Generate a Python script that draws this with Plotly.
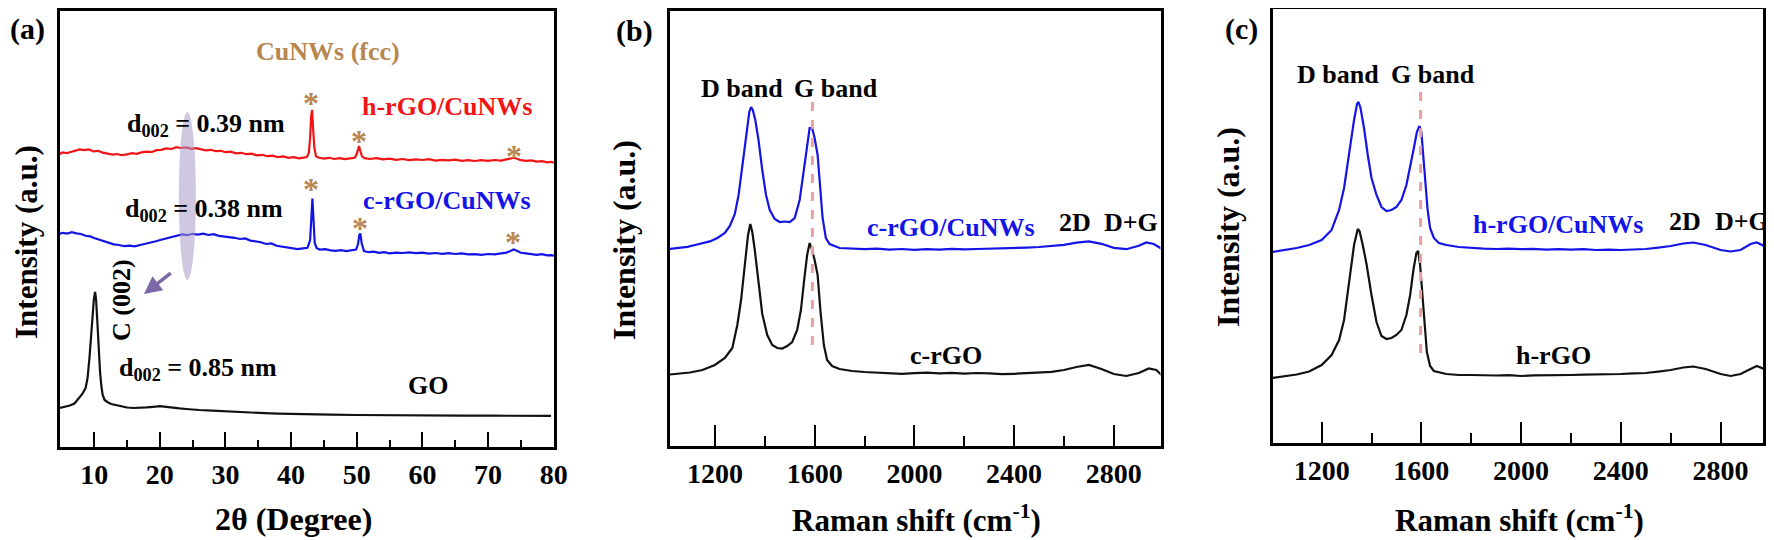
import plotly.graph_objects as go

# The page body adds an 8 px margin, so the figure is 8 px smaller on each axis
W, H = 1766, 532
OFF = 8
FONT = "Liberation Serif"

# ---------------- (a) XRD data (2theta in degree, intensity a.u.) ----------------
xrd_h_x = [4.7, 5.2, 5.8, 6.5, 7.2, 7.8, 8.5, 9.2, 9.9, 10.6, 11.3, 12.0, 12.8, 13.5, 14.2, 15.0,
           15.8, 16.5, 17.2, 18.0, 18.8, 19.5, 20.2, 21.0, 21.8, 22.5, 23.2, 24.0, 24.8, 25.5,
           26.3, 27.0, 27.8, 28.5, 29.3, 30.0, 30.8, 31.6, 32.4, 33.2, 34.0, 34.8, 35.6, 36.4,
           37.2, 38.0, 38.8, 39.6, 40.4, 41.2, 41.9, 42.4, 42.7, 42.9, 43.05, 43.2, 43.35, 43.55,
           43.8, 44.3, 45.0, 45.8, 46.6, 47.4, 48.2, 49.0, 49.7, 50.0, 50.2, 50.35, 50.55, 50.8,
           51.2, 52.0, 53.0, 54.0, 55.0, 56.0, 57.0, 58.0, 59.0, 60.0, 61.0, 62.0, 63.0, 64.0,
           65.0, 66.0, 67.0, 68.0, 69.0, 70.0, 71.0, 72.0, 72.8, 73.4, 73.9, 74.4, 75.0, 75.8,
           76.6, 77.4, 78.2, 79.0, 79.6, 80.2]
xrd_h_y = [296.0, 297.5, 296.8, 298.2, 299.0, 300.6, 299.8, 300.5, 298.6, 299.2, 297.4, 296.8, 295.4, 296.0, 294.8, 295.6,
           296.8, 296.2, 297.6, 298.4, 298.0, 299.8, 300.2, 301.6, 301.0, 302.8, 302.0, 302.6, 301.2, 301.8,
           300.4, 299.6, 300.2, 298.8, 299.2, 297.8, 298.4, 296.6, 297.2, 295.8, 296.4, 294.6, 295.2, 293.8,
           294.4, 292.8, 293.6, 292.2, 292.8, 291.6, 292.4, 293.0, 297.0, 312.0, 333.0, 340.0, 322.0, 302.0,
           293.5, 292.2, 291.4, 292.2, 291.0, 291.8, 290.8, 291.6, 292.2, 296.0, 301.5, 304.0, 299.0, 293.6,
           291.8, 291.0, 291.8, 290.6, 291.4, 290.2, 291.0, 289.8, 290.6, 290.0, 290.8, 289.4, 290.2, 289.6,
           290.4, 289.2, 289.8, 289.0, 289.8, 289.2, 290.0, 289.4, 290.6, 291.4, 292.2, 291.2, 289.8, 289.2,
           289.6, 288.4, 288.8, 287.6, 288.2, 287.2]

xrd_c_x = [4.7, 5.2, 5.9, 6.6, 7.3, 8.0, 8.7, 9.4, 10.1, 10.8, 11.5, 12.2, 13.0, 13.8, 14.6, 15.4,
           16.2, 17.0, 17.8, 18.6, 19.4, 20.2, 21.0, 21.8, 22.6, 23.4, 24.2, 25.0, 25.8, 26.6,
           27.4, 28.2, 29.0, 29.8, 30.6, 31.4, 32.2, 33.0, 33.8, 34.6, 35.4, 36.2, 37.0, 37.8,
           38.6, 39.4, 40.2, 41.0, 41.8, 42.5, 42.9, 43.1, 43.25, 43.4, 43.6, 43.9, 44.4, 45.2,
           46.0, 46.8, 47.6, 48.4, 49.2, 49.9, 50.2, 50.4, 50.55, 50.75, 51.1, 51.8, 52.6, 53.4,
           54.2, 55.0, 56.0, 57.0, 58.0, 59.0, 60.0, 61.0, 62.0, 63.0, 64.0, 65.0, 66.0, 67.0,
           68.0, 69.0, 70.0, 71.0, 72.0, 72.8, 73.4, 73.9, 74.4, 75.0, 75.8, 76.6, 77.4, 78.2,
           79.0, 79.6, 80.2]
xrd_c_y = [216.0, 217.2, 216.4, 217.8, 216.6, 216.0, 214.2, 213.6, 211.8, 210.4, 208.6, 207.2, 205.6, 205.0, 203.8, 204.4,
           203.6, 205.0, 206.2, 207.0, 208.8, 210.2, 211.6, 213.4, 214.2, 215.6, 214.8, 216.2, 215.4, 216.4,
           215.0, 215.8, 214.2, 213.6, 213.0, 212.2, 211.0, 211.6, 209.4, 208.6, 207.8, 206.0, 206.6, 204.2,
           203.4, 202.2, 201.4, 200.8, 201.6, 202.2, 210.0, 240.0, 251.5, 232.0, 207.0, 201.8, 200.4, 200.8,
           199.6, 199.2, 199.8, 198.8, 199.4, 200.4, 206.0, 215.0, 216.5, 207.0, 199.0, 197.8, 198.4, 197.2,
           197.8, 196.6, 197.4, 197.0, 197.6, 196.8, 197.4, 196.4, 197.0, 196.2, 196.8, 196.0, 196.6, 195.6,
           195.8, 195.2, 196.0, 195.6, 196.6, 197.4, 199.0, 200.6, 199.2, 197.2, 196.6, 196.0, 195.2, 195.8,
           194.6, 194.8, 194.2]

xrd_go_x = [4.7, 5.5, 6.3, 7.0, 7.7, 8.2, 8.7, 9.0, 9.3, 9.55, 9.75, 9.95, 10.15, 10.3, 10.5, 10.7,
            10.9, 11.1, 11.3, 11.6, 12.0, 12.6, 13.3, 14.0, 15.0, 16.0, 17.0, 18.0, 19.0, 20.0,
            21.0, 22.0, 23.0, 24.0, 25.0, 26.0, 28.0, 30.0, 32.0, 34.0, 36.0, 38.0, 40.0, 43.0,
            46.0, 50.0, 54.0, 58.0, 62.0, 66.0, 70.0, 74.0, 77.0, 79.6]
xrd_go_y = [42.0, 43.0, 44.5, 46.5, 51.5, 56.0, 62.0, 72.0, 93.0, 115.0, 133.0, 150.0, 158.0, 150.0, 127.0, 100.0,
            78.0, 64.0, 55.0, 50.0, 48.0, 46.0, 45.0, 43.5, 42.5, 42.0, 42.0, 42.6, 43.2, 43.8,
            43.2, 42.2, 41.6, 41.0, 40.4, 40.0, 39.4, 38.6, 37.8, 37.2, 36.8, 36.4, 36.0, 35.6,
            35.4, 35.0, 34.7, 34.6, 34.5, 34.4, 34.3, 34.3, 34.2, 34.2]

# ---------------- (b) Raman: c-rGO/CuNWs and c-rGO ----------------
ram_b_top_x = [1000, 1030, 1060, 1090, 1120, 1150, 1180, 1210, 1240, 1260, 1280, 1295, 1310, 1325, 1338, 1345,
               1352, 1362, 1375, 1390, 1405, 1420, 1440, 1460, 1480, 1500, 1520, 1540, 1555, 1568, 1580, 1590,
               1600, 1612, 1622, 1632, 1645, 1660, 1700, 1750, 1800, 1850, 1900, 1950, 2000, 2050, 2100, 2150,
               2200, 2250, 2300, 2350, 2400, 2450, 2500, 2550, 2600, 2650, 2700, 2750, 2800, 2850, 2900, 2930,
               2960, 3000]
ram_b_top_y = [200.5, 201.5, 201.8, 203.2, 205.0, 206.8, 208.6, 212.0, 217.0, 224.0, 236.0, 255.0, 285.0, 318.0, 338.0, 343.0,
               340.0, 330.0, 310.0, 280.0, 255.0, 240.0, 231.0, 228.0, 228.5, 228.0, 232.0, 250.0, 278.0, 305.0, 322.0, 322.0,
               312.0, 295.0, 265.0, 232.0, 212.0, 206.0, 202.0, 201.2, 200.8, 201.4, 200.4, 201.0, 200.2, 200.8, 200.4, 201.2,
               200.6, 201.0, 201.2, 201.8, 201.6, 202.4, 203.0, 204.0, 205.2, 207.4, 208.6, 206.2, 202.2, 200.8, 204.2, 207.6,
               206.0, 200.0]
ram_b_bot_x = [1000, 1050, 1100, 1150, 1200, 1240, 1270, 1290, 1305, 1320, 1333, 1342, 1350, 1360, 1375, 1390,
               1410, 1430, 1450, 1470, 1490, 1510, 1530, 1545, 1558, 1570, 1580, 1590, 1600, 1612, 1624, 1637,
               1650, 1670, 1700, 1750, 1800, 1850, 1900, 1950, 2000, 2050, 2100, 2150, 2200, 2250, 2300, 2350,
               2400, 2450, 2500, 2550, 2600, 2650, 2700, 2750, 2800, 2850, 2900, 2940, 2970, 3000]
ram_b_bot_y = [75.0, 76.5, 77.5, 80.0, 85.0, 92.0, 102.0, 125.0, 150.0, 185.0, 215.0, 226.0, 218.0, 200.0, 165.0, 136.0,
               115.0, 105.0, 102.0, 101.5, 104.0, 108.0, 120.0, 140.0, 170.0, 195.0, 207.0, 200.0, 190.0, 175.0, 137.0, 105.0,
               90.0, 84.0, 81.0, 79.0, 78.0, 77.2, 77.0, 76.2, 76.8, 77.4, 76.6, 77.2, 76.4, 77.0, 76.6, 75.8,
               76.2, 76.8, 77.0, 78.2, 80.0, 83.0, 85.0, 81.0, 76.0, 74.0, 77.0, 81.5, 80.0, 73.0]

# ---------------- (c) Raman: h-rGO/CuNWs and h-rGO ----------------
ram_c_top_x = [1000, 1050, 1100, 1150, 1200, 1240, 1270, 1290, 1310, 1330, 1342, 1348, 1356, 1370, 1385, 1400,
               1420, 1440, 1460, 1480, 1500, 1520, 1540, 1555, 1570, 1582, 1592, 1600, 1608, 1616, 1625, 1635,
               1650, 1670, 1700, 1750, 1800, 1850, 1900, 1950, 2000, 2050, 2100, 2150, 2200, 2250, 2300, 2350,
               2400, 2450, 2500, 2550, 2600, 2650, 2690, 2740, 2800, 2840, 2880, 2920, 2945, 2975, 3000]
ram_c_top_y = [198.0, 200.0, 202.0, 205.0, 210.0, 220.0, 240.0, 262.0, 297.0, 330.0, 346.0, 348.0, 342.0, 322.0, 295.0, 272.0,
               255.0, 243.0, 239.0, 240.0, 243.0, 250.0, 265.0, 282.0, 302.0, 318.0, 324.0, 318.0, 295.0, 265.0, 240.0, 222.0,
               212.0, 207.0, 205.0, 203.0, 202.0, 201.4, 201.0, 201.4, 200.8, 201.2, 200.4, 200.8, 200.4, 200.8, 200.0, 200.4,
               200.0, 200.6, 201.0, 202.4, 204.0, 206.5, 207.5, 205.0, 200.0, 198.5, 200.0, 206.0, 207.5, 204.0, 198.0]
ram_c_bot_x = [1000, 1050, 1100, 1150, 1200, 1240, 1270, 1290, 1310, 1330, 1345, 1352, 1365, 1380, 1400, 1420,
               1440, 1460, 1480, 1500, 1520, 1540, 1555, 1568, 1580, 1587, 1595, 1604, 1612, 1622, 1635, 1650,
               1700, 1750, 1800, 1850, 1900, 1950, 2000, 2050, 2100, 2150, 2200, 2250, 2300, 2350, 2400, 2450,
               2500, 2550, 2600, 2650, 2690, 2740, 2800, 2840, 2880, 2920, 2945, 2975, 3000]
ram_c_bot_y = [72.0, 74.0, 75.5, 78.5, 85.0, 95.0, 110.0, 130.0, 170.0, 205.0, 221.0, 219.0, 205.0, 186.0, 155.0, 128.0,
               114.0, 111.0, 112.0, 115.0, 120.0, 135.0, 155.0, 180.0, 197.0, 199.0, 185.0, 157.0, 125.0, 98.0, 84.0, 79.0,
               76.0, 75.0, 75.0, 74.6, 74.5, 74.8, 74.0, 74.6, 74.5, 75.0, 75.0, 75.4, 75.5, 76.0, 76.0, 76.6,
               77.0, 78.4, 80.0, 82.5, 83.5, 81.0, 76.0, 74.0, 76.0, 81.0, 84.0, 81.0, 75.0]

# tick labels / G-band guide positions
xrd_ticks = [10, 20, 30, 40, 50, 60, 70, 80]
xrd_minor = [15, 25, 35, 45, 55, 65, 75]
ram_ticks = [1200, 1600, 2000, 2400, 2800]
ram_minor = [1400, 1800, 2200, 2600]
g_band_b = 1591
g_band_c = 1597

RED = "#f01414"
BLUE = "#1414e6"
BLACK = "#111111"
BROWN = "#b8864f"
PINK = "#e8a0a0"

fig = go.Figure()
def line(x, y, color, xa, ya, w=2.2):
    fig.add_trace(go.Scatter(x=x, y=y, mode="lines", xaxis=xa, yaxis=ya,
                             line=dict(color=color, width=w), hoverinfo="skip", showlegend=False))

line(xrd_go_x, xrd_go_y, BLACK, "x", "y")
line(xrd_c_x, xrd_c_y, BLUE, "x", "y")
line(xrd_h_x, xrd_h_y, RED, "x", "y")
line(ram_b_bot_x, ram_b_bot_y, BLACK, "x2", "y2")
line(ram_b_top_x, ram_b_top_y, BLUE, "x2", "y2")
line(ram_c_bot_x, ram_c_bot_y, BLACK, "x3", "y3")
line(ram_c_top_x, ram_c_top_y, BLUE, "x3", "y3")

tickfont = dict(family=FONT, size=28, color="black", weight="bold")

def px_dom_x(x0, x1):          # window pixels -> figure fraction
    return [(x0 - OFF) / W, (x1 - OFF) / W]

def px_dom_y(top, bottom):
    return [1 - (bottom - OFF) / H, 1 - (top - OFF) / H]

def xax(domain, rng, ticks, minor, anchor, major_len):
    return dict(domain=domain, range=rng, anchor=anchor, tickmode="array", tickvals=ticks,
                ticktext=[str(v) for v in ticks], ticks="inside", ticklen=major_len, tickwidth=2,
                tickcolor="black", showline=True, linewidth=3, linecolor="black", mirror=True,
                showgrid=False, zeroline=False, tickfont=tickfont, automargin=False,
                minor=dict(tickvals=minor, ticks="inside", ticklen=major_len // 2, tickwidth=2,
                           tickcolor="black", showgrid=False))

def yax(anchor, domain, rng):
    return dict(domain=domain, range=rng, anchor=anchor, showticklabels=False, automargin=False,
                ticks="", showline=True, linewidth=3, linecolor="black", mirror=True,
                showgrid=False, zeroline=False)

fig.update_layout(
    template="none",
    width=W, height=H, margin=dict(l=0, r=0, t=0, b=0, pad=0),
    paper_bgcolor="white", plot_bgcolor="white",
    font=dict(family=FONT, color="black"),
    xaxis=xax(px_dom_x(60, 554), [4.8, 80.05], xrd_ticks, xrd_minor, "y", 15),
    yaxis=yax("x", px_dom_y(11, 447), [3, 439]),
    xaxis2=xax(px_dom_x(670, 1160.5), [1020, 2987], ram_ticks, ram_minor, "y2", 21),
    yaxis2=yax("x2", px_dom_y(11, 446), [4, 439]),
    xaxis3=xax(px_dom_x(1273, 1763), [1005, 2970], ram_ticks, ram_minor, "y3", 21),
    yaxis3=yax("x3", px_dom_y(9, 443), [7, 441]),
)

ann = []
def txt(text, x, y, xref, yref, size=26, color="black", angle=0):
    ann.append(dict(text=text, x=x, y=y, xref=xref, yref=yref, showarrow=False,
                    xanchor="center", yanchor="middle", textangle=angle,
                    font=dict(family=FONT, size=size, color=color, weight="bold")))

def ptxt(text, X, Y, size, angle=0):   # window-pixel placement
    txt(text, (X - OFF) / W, 1 - (Y - OFF) / H, "paper", "paper", size, angle=angle)

# panel letters and axis titles
ptxt("(a)", 27, 29, 30)
ptxt("(b)", 634, 31, 30)
ptxt("(c)", 1241, 29, 30)
ptxt("Intensity (a.u.)", 26, 242, 31, angle=-90)
ptxt("Intensity (a.u.)", 624, 240, 32, angle=-90)
ptxt("Intensity (a.u.)", 1228, 227, 32, angle=-90)
ptxt("2θ (Degree)", 293, 519, 32)
ptxt("Raman shift (cm<sup>-1</sup>)", 916, 518, 31)
ptxt("Raman shift (cm<sup>-1</sup>)", 1519, 518, 31)

# panel (a) annotations
txt("CuNWs (fcc)", 45.6, 398, "x", "y", 26, BROWN)
for (ax_, ay_) in [(43.1, 355), (50.4, 317), (74.0, 302), (43.0, 269), (50.5, 230), (73.8, 216)]:
    txt("*", ax_, ay_ - 8, "x", "y", 32, BROWN)
txt("h-rGO/CuNWs", 63.8, 343, "x", "y", 26, RED)
txt("c-rGO/CuNWs", 63.8, 250, "x", "y", 26, BLUE)
txt("d<sub>002</sub> = 0.39 nm", 27.0, 325, "x", "y", 26)
txt("d<sub>002</sub> = 0.38 nm", 26.7, 240, "x", "y", 26)
txt("d<sub>002</sub> = 0.85 nm", 25.8, 81, "x", "y", 26)
txt("GO", 60.8, 65, "x", "y", 26)
txt("C (002)", 14.1, 150, "x", "y", 26, angle=-90)
ann.append(dict(x=17.6, y=156, ax=21.9, ay=178, xref="x", yref="y", axref="x", ayref="y",
                showarrow=True, arrowhead=2, arrowsize=1, arrowwidth=3.5, arrowcolor="#7b68a6", text=""))

# panel (b)
txt("D band", 1310, 361, "x2", "y2")
txt("G band", 1687, 361, "x2", "y2")
txt("c-rGO/CuNWs", 2145, 223, "x2", "y2", 26, BLUE)
txt("2D", 2644, 228, "x2", "y2")
txt("D+G", 2870, 228, "x2", "y2")
txt("c-rGO", 2125, 95, "x2", "y2")

# panel (c)
txt("D band", 1267, 375, "x3", "y3")
txt("G band", 1645, 375, "x3", "y3")
txt("h-rGO/CuNWs", 2149, 225, "x3", "y3", 26, BLUE)
txt("2D", 2659, 228, "x3", "y3")
txt("D+G", 2884, 228, "x3", "y3")
txt("h-rGO", 2128, 95, "x3", "y3")

fig.update_layout(annotations=ann)

fig.update_layout(shapes=[
    dict(type="circle", xref="x", yref="y", x0=22.9, x1=25.5, y0=170, y1=338,
         fillcolor="rgba(170,155,200,0.55)", line=dict(width=0), layer="above"),
    dict(type="line", xref="x2", yref="y2", x0=g_band_b, x1=g_band_b, y0=105, y1=352,
         line=dict(color=PINK, width=3, dash="dash"), layer="above"),
    dict(type="line", xref="x3", yref="y3", x0=g_band_c, x1=g_band_c, y0=97, y1=360,
         line=dict(color=PINK, width=3, dash="dash"), layer="above"),
])

fig.write_html("out.html")
